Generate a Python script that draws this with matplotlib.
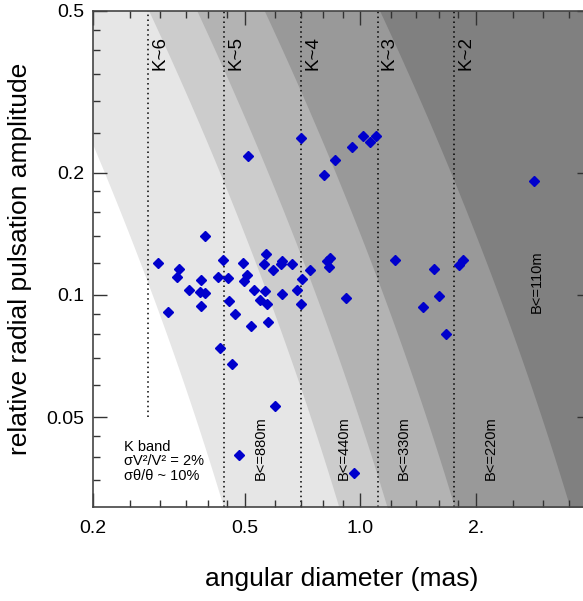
import numpy as np
import matplotlib
matplotlib.use("Agg")
import matplotlib.pyplot as plt
from matplotlib.ticker import FixedLocator, NullFormatter

plt.rcParams['font.family'] = ['Liberation Sans', 'DejaVu Sans']

# stars: angular diameter (mas) and relative pulsation amplitude
theta = [0.509, 0.701, 0.802, 0.857, 0.951, 1.014, 1.060, 1.099, 2.84,
         0.393, 0.296, 0.336, 0.333, 0.384, 0.357, 0.381, 0.393, 0.384, 0.315,
         0.438, 0.425, 0.451, 0.453, 0.470, 0.430,
         0.495, 0.505, 0.498, 0.529, 0.567, 0.559, 0.625, 0.621, 0.662, 0.591,
         0.563, 0.548, 0.571, 0.626, 0.573, 0.517,
         0.740, 0.704, 0.683, 0.701, 0.820, 0.832, 0.830, 0.917,
         1.234, 1.557, 1.46, 1.607, 1.67, 1.81, 1.85,
         0.483, 0.599, 0.963, 0.462]
amp = [0.220, 0.243, 0.197, 0.215, 0.231, 0.246, 0.238, 0.246, 0.191,
       0.140, 0.120, 0.116, 0.111, 0.109, 0.103, 0.1015, 0.101, 0.094, 0.091,
       0.122, 0.111, 0.110, 0.0965, 0.090, 0.074,
       0.120, 0.112, 0.108, 0.103, 0.126, 0.119, 0.121, 0.119, 0.119, 0.115,
       0.102, 0.097, 0.095, 0.1006, 0.086, 0.084,
       0.115, 0.1095, 0.103, 0.095, 0.121, 0.123, 0.117, 0.0985,
       0.122, 0.116, 0.0934, 0.0993, 0.080, 0.1186, 0.122,
       0.0404, 0.0534, 0.0364, 0.0676]

# detection limit for the longest baseline (B=880m)
lim_amp = [0.5, 0.227, 0.1445, 0.0692, 0.03]
lim_theta = [0.1415, 0.2, 0.248, 0.335, 0.438]

baselines = [880, 440, 330, 220, 110]
band_colors = ['#e6e6e6', '#cccccc', '#b3b3b3', '#999999', '#808080']
bl_label_x = [0.551, 0.906, 1.30, 2.19, 2.89]
bl_label_y = [0.042, 0.042, 0.042, 0.042, 0.1077]

kmag = [6, 5, 4, 3, 2]
k_theta = [0.279, 0.441, 0.70, 1.109, 1.758]

fig = plt.figure(figsize=(5.83, 6.01), dpi=100)
ax = fig.add_axes([0.1587, 0.1557, 0.855, 0.826])
ax.set_xscale('log')
ax.set_yscale('log')
ax.set_xlim(0.2, 4.0)
ax.set_ylim(0.03, 0.5)

# smooth boundary curve (quadratic in log-log)
p = np.polyfit(np.log10(lim_amp), np.log10(lim_theta), 2)
ag = np.logspace(np.log10(0.02), np.log10(0.6), 200)
tg = 10 ** np.polyval(p, np.log10(ag))
for b, c in zip(baselines, band_colors):
    ax.fill_betweenx(ag, tg * 880.0 / b, 10, color=c, lw=0, zorder=0)

for k, t in zip(kmag, k_theta):
    ymin = 0.05 if k == 6 else 0.03
    ax.plot([t, t], [ymin, 0.5], color='black', ls=(0, (1, 2.2)), lw=1.1, zorder=1)
    ax.annotate('K~%d' % k, (t, 0.395), xytext=(8.5, 0), textcoords='offset points',
                rotation=90, ha='center', va='center', fontsize=13.5)

for b, x, y in zip(baselines, bl_label_x, bl_label_y):
    ax.text(x, y, 'B<=%dm' % b, rotation=90, ha='center', va='center', fontsize=10.5)

ax.text(0.241, 0.039, 'K band\nσV²/V² = 2%\nσθ/θ ~ 10%', fontsize=10.5,
        ha='left', va='center', linespacing=1.05)

ax.plot(theta, amp, 'D', color='#0000cc', ms=4.6, mec='#0000cc', zorder=3)

ax.xaxis.set_major_locator(FixedLocator([0.2, 0.5, 1.0, 2.0, 4.0]))
ax.xaxis.set_minor_locator(FixedLocator([0.25, 0.3, 0.35, 0.4, 0.45, 0.6, 0.7, 0.8, 0.9,
                                         1.2, 1.4, 1.6, 1.8, 2.5, 3.0, 3.5]))
ax.set_xticklabels(['0.2', '0.5', '1.0', '2.', ''])
ax.xaxis.set_minor_formatter(NullFormatter())
ax.yaxis.set_major_locator(FixedLocator([0.05, 0.1, 0.2, 0.5]))
ax.yaxis.set_minor_locator(FixedLocator([0.035, 0.04, 0.045, 0.06, 0.07, 0.08, 0.09,
                                         0.12, 0.14, 0.16, 0.18, 0.25, 0.3, 0.35, 0.4, 0.45]))
ax.set_yticklabels(['0.05', '0.1', '0.2', '0.5'])
ax.yaxis.set_minor_formatter(NullFormatter())

ax.tick_params(which='both', direction='in', top=True, right=True, width=1, color='#333333')
ax.tick_params(which='major', length=10, labelsize=14, pad=9)
ax.tick_params(which='minor', length=5)
ax.tick_params(axis='y', which='major', pad=6)
for s in ax.spines.values():
    s.set_color('#444444')
    s.set_linewidth(1.2)

ax.set_xlabel('angular diameter (mas)', fontsize=19, labelpad=22)
ax.set_ylabel('relative radial pulsation amplitude', fontsize=19, labelpad=10)

fig.savefig('out.png', dpi=100)
